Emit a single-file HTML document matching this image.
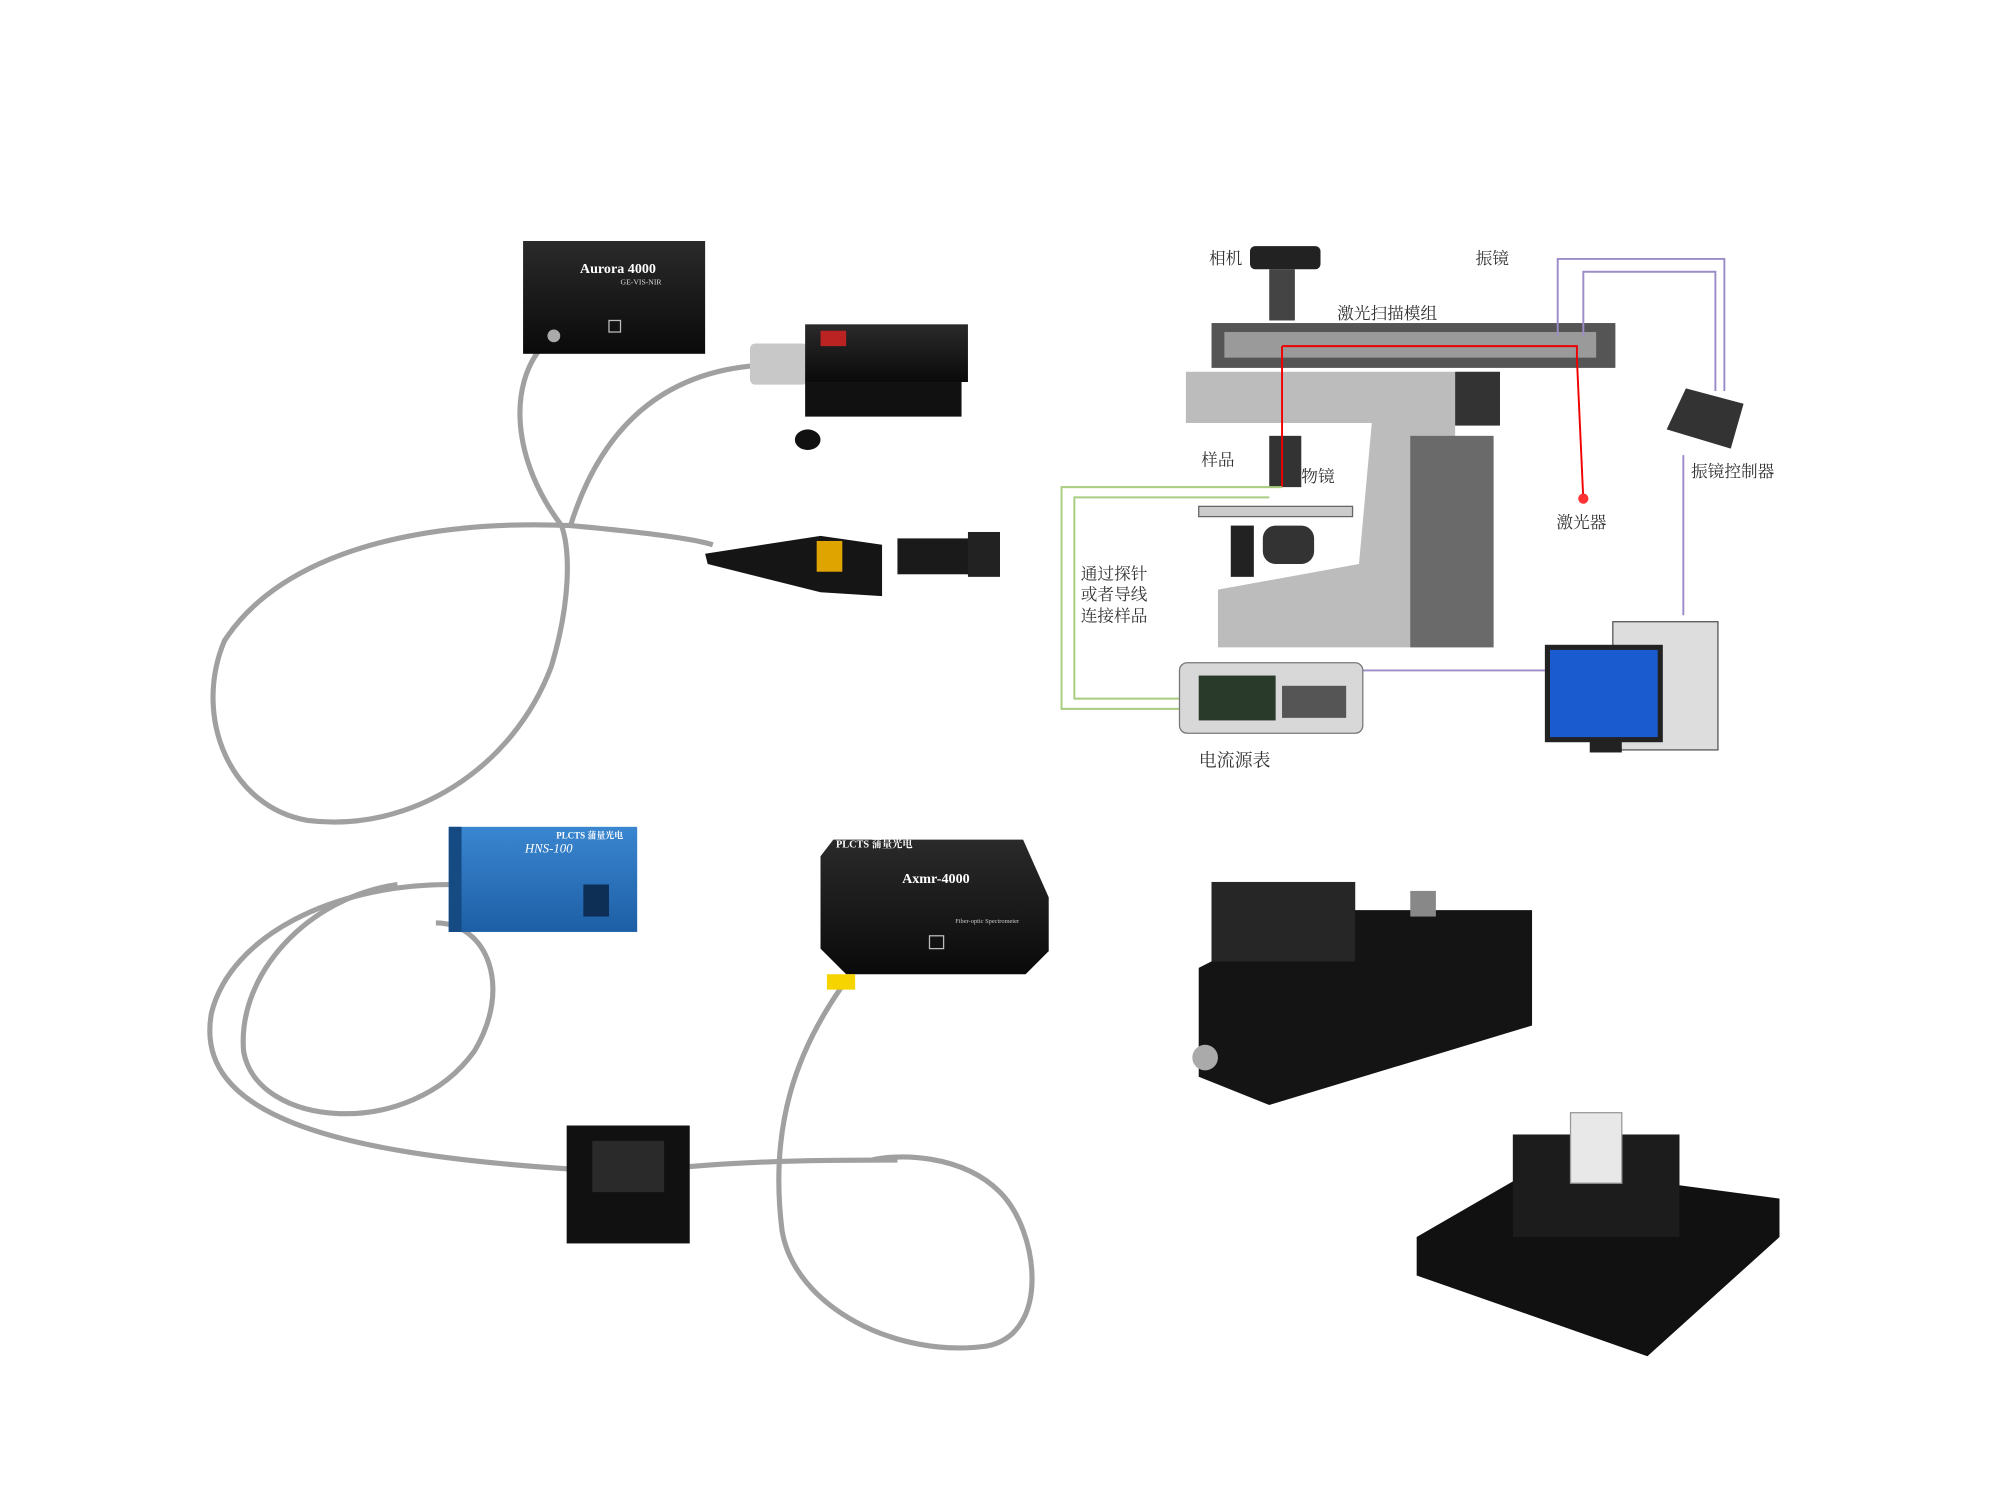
<!DOCTYPE html>
<html><head><meta charset="utf-8"><style>
html,body{margin:0;padding:0;background:#fff}
svg{display:block}
text{font-family:"Liberation Serif","Noto Serif CJK SC",serif}
</style></head><body>
<svg width="2000" height="1487" viewBox="0 0 1560 1160" preserveAspectRatio="none" xmlns="http://www.w3.org/2000/svg">
<rect width="1560" height="1160" fill="#fff"/>
<defs>
<linearGradient id="blk" x1="0" y1="0" x2="0" y2="1"><stop offset="0" stop-color="#2a2a2a"/><stop offset="1" stop-color="#0a0a0a"/></linearGradient>
<linearGradient id="blue" x1="0" y1="0" x2="0" y2="1"><stop offset="0" stop-color="#3a86d0"/><stop offset="1" stop-color="#1d5fa6"/></linearGradient>
</defs>
<g fill="none" stroke="#a0a0a0" stroke-width="4">
<path d="M425,268 C395,300 400,360 438,410 C445,430 445,470 430,520 C400,600 320,650 240,640 C180,630 150,560 175,500 C220,430 330,405 445,410 C500,415 540,420 556,425"/>
<path d="M592,285 C520,290 470,330 445,410"/>
<path d="M350,690 C260,690 180,730 165,790 C150,870 260,900 445,912"/>
<path d="M310,690 C240,700 185,760 190,820 C200,880 320,890 370,820 C400,770 380,720 340,720"/>
<path d="M538,910 C600,905 650,905 700,905"/>
<path d="M660,765 C620,820 600,880 610,960 C620,1020 700,1060 770,1050 C820,1040 810,960 780,930 C750,900 700,900 680,905"/>
</g>
<rect x="408" y="188" width="142" height="88" fill="url(#blk)"/>
<text x="482" y="213" fill="#fff" font-size="11" font-weight="bold" text-anchor="middle" font-family="Liberation Sans">Aurora 4000</text>
<text x="500" y="222" fill="#ddd" font-size="6" text-anchor="middle" font-family="Liberation Sans">GE-VIS-NIR</text>
<rect x="475" y="250" width="9" height="9" fill="none" stroke="#bbb"/>
<circle cx="432" cy="262" r="5" fill="#aaa"/>
<rect x="585" y="268" width="45" height="32" rx="4" fill="#c8c8c8"/>
<rect x="628" y="253" width="127" height="45" fill="url(#blk)"/>
<rect x="628" y="298" width="122" height="27" fill="#111"/>
<rect x="640" y="258" width="20" height="12" fill="#b22"/>
<ellipse cx="630" cy="343" rx="10" ry="8" fill="#111"/>
<polygon points="550,432 640,418 688,425 688,465 640,462 552,440" fill="#151515"/>
<rect x="637" y="422" width="20" height="24" fill="#e0a400"/>
<rect x="700" y="420" width="80" height="28" fill="#1a1a1a"/>
<rect x="755" y="415" width="25" height="35" fill="#222"/>
<rect x="350" y="645" width="147" height="82" fill="url(#blue)"/>
<rect x="350" y="645" width="10" height="82" fill="#164a82"/>
<text x="428" y="665" fill="#fff" font-size="10" font-style="italic" font-family="Liberation Sans" text-anchor="middle">HNS-100</text>
<text x="460" y="654" fill="#fff" font-size="7" font-weight="bold" font-family="Liberation Sans" text-anchor="middle">PLCTS 蒲量光电</text>
<rect x="455" y="690" width="20" height="25" fill="#0e2f55"/>
<polygon points="640,668 650,655 798,655 818,700 818,742 800,760 660,760 640,740" fill="url(#blk)"/>
<text x="730" y="689" fill="#fff" font-size="11" font-weight="bold" text-anchor="middle" font-family="Liberation Sans">Axmr-4000</text>
<text x="682" y="661" fill="#fff" font-size="8" font-weight="bold" text-anchor="middle" font-family="Liberation Sans">PLCTS 蒲量光电</text>
<text x="770" y="720" fill="#ccc" font-size="5" text-anchor="middle" font-family="Liberation Sans">Fiber-optic Spectrometer</text>
<rect x="725" y="730" width="11" height="10" fill="none" stroke="#bbb"/>
<rect x="645" y="760" width="22" height="12" fill="#f5d400"/>
<rect x="442" y="878" width="96" height="92" fill="#111"/>
<rect x="462" y="890" width="56" height="40" fill="#2a2a2a"/>
<polygon points="935,755 945,750 945,688 1057,688 1057,710 1195,710 1195,800 990,862 935,840" fill="#141414"/>
<rect x="945" y="688" width="112" height="62" fill="#262626"/>
<rect x="1100" y="695" width="20" height="20" fill="#888"/>
<circle cx="940" cy="825" r="10" fill="#aaa"/>
<polygon points="1105,965 1200,910 1388,935 1388,965 1285,1058 1105,995" fill="#111"/>
<rect x="1180" y="885" width="130" height="80" fill="#1c1c1c"/>
<rect x="1225" y="868" width="40" height="55" fill="#e8e8e8" stroke="#999"/>
<rect x="975" y="192" width="55" height="18" rx="4" fill="#222"/>
<rect x="990" y="210" width="20" height="40" fill="#444"/>
<rect x="945" y="252" width="315" height="35" fill="#555"/>
<rect x="955" y="259" width="290" height="20" fill="#9a9a9a"/>
<polygon points="925,290 1135,290 1135,340 1120,345 1165,345 1165,505 950,505 950,460 1060,440 1070,330 925,330" fill="#bcbcbc"/>
<rect x="1100" y="340" width="65" height="165" fill="#6a6a6a"/>
<rect x="1135" y="290" width="35" height="42" fill="#333"/>
<rect x="935" y="395" width="120" height="8" fill="#ccc" stroke="#666"/>
<rect x="985" y="410" width="40" height="30" rx="10" fill="#333"/>
<rect x="960" y="410" width="18" height="40" fill="#222"/>
<rect x="990" y="340" width="25" height="40" fill="#333"/>
<polyline points="1000,270 1230,270 1230,280 1235,390" fill="none" stroke="#e00" stroke-width="1.5"/>
<line x1="1000" y1="270" x2="1000" y2="380" stroke="#e00" stroke-width="1.5"/>
<circle cx="1235" cy="389" r="4" fill="#f33"/>
<polyline points="1215,262 1215,202 1345,202 1345,305" fill="none" stroke="#9b8cc8" stroke-width="1.5"/>
<polyline points="1235,262 1235,212 1338,212 1338,305" fill="none" stroke="#9b8cc8" stroke-width="1.5"/>
<polyline points="1313,355 1313,480" fill="none" stroke="#9b8cc8" stroke-width="1.5"/>
<line x1="1060" y1="523" x2="1205" y2="523" stroke="#9b8cc8" stroke-width="1.5"/>
<polyline points="1000,380 828,380 828,553 920,553" fill="none" stroke="#a8cc80" stroke-width="1.5"/>
<polyline points="990,388 838,388 838,545 920,545" fill="none" stroke="#a8cc80" stroke-width="1.5"/>
<polygon points="1300,335 1315,303 1360,315 1350,350" fill="#333"/>
<rect x="920" y="517" width="143" height="55" rx="6" fill="#d8d8d8" stroke="#777"/>
<rect x="935" y="527" width="60" height="35" fill="#2a3a2a"/>
<rect x="1000" y="535" width="50" height="25" fill="#555"/>
<rect x="1258" y="485" width="82" height="100" fill="#ddd" stroke="#555"/>
<rect x="1207" y="505" width="88" height="72" fill="#1a5bd0" stroke="#222" stroke-width="4"/>
<rect x="1240" y="577" width="25" height="10" fill="#222"/>
<g font-size="13" fill="#333">
<text x="943" y="206">相机</text>
<text x="1151" y="206">振镜</text>
<text x="1043" y="249">激光扫描模组</text>
<text x="937" y="363">样品</text>
<text x="1015" y="376">物镜</text>
<text x="1214" y="412">激光器</text>
<text x="1319" y="372">振镜控制器</text>
<text x="843" y="452">通过探针</text>
<text x="843" y="468">或者导线</text>
<text x="843" y="485">连接样品</text>
<text x="935" y="598" font-size="14">电流源表</text>
</g>
</svg>
</body></html>
